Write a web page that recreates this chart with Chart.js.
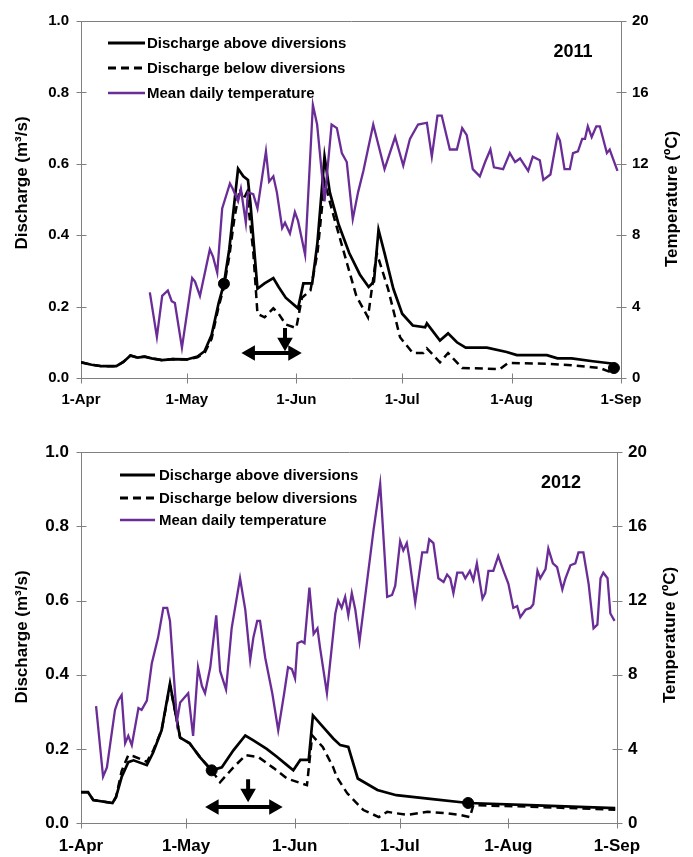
<!DOCTYPE html>
<html>
<head>
<meta charset="utf-8">
<script src="https://cdn.jsdelivr.net/npm/chart.js@4.4.1/dist/chart.umd.min.js"></script>
<style>
  html, body { margin: 0; padding: 0; background: #fff; }
  #wrap { position: relative; width: 693px; height: 857px; }
  .panel { position: absolute; left: 0; width: 693px; }
</style>
</head>
<body>
<div id="wrap">
  <div class="panel" style="top:0"><canvas id="c2011" width="693" height="420"></canvas></div>
  <div class="panel" style="top:430px"><canvas id="c2012" width="693" height="427"></canvas></div>
</div>
<script>
// x axis is days since 1-Apr
const TICK_DAYS = [0, 30, 61, 91, 122, 153];
const TICK_LABELS = ['1-Apr', '1-May', '1-Jun', '1-Jul', '1-Aug', '1-Sep'];
const LEGEND_LABELS = ['Discharge above diversions', 'Discharge below diversions', 'Mean daily temperature'];

// ---- 2011 ----
const above2011Day = [0, 3, 6, 10, 12, 14, 16, 18, 20, 23, 26, 30, 33, 35, 37, 39, 40.5, 42, 43, 44.5, 46, 47.3, 48, 50, 52, 54.5, 56, 58, 61.5, 63, 65.5, 67, 69, 70.5, 73, 76, 79, 81.5, 83, 84.3, 86, 88.5, 91, 94, 97.5, 98, 101.7, 104, 106.5, 109, 115, 120.6, 123.5, 132, 135, 139, 145, 151];
const above2011Q = [0.044, 0.037, 0.033, 0.033, 0.045, 0.063, 0.057, 0.060, 0.055, 0.050, 0.053, 0.052, 0.060, 0.075, 0.12, 0.21, 0.264, 0.36, 0.45, 0.586, 0.565, 0.555, 0.49, 0.25, 0.265, 0.28, 0.255, 0.225, 0.195, 0.265, 0.265, 0.38, 0.62, 0.52, 0.43, 0.35, 0.29, 0.255, 0.27, 0.415, 0.35, 0.25, 0.18, 0.147, 0.142, 0.153, 0.105, 0.125, 0.1, 0.085, 0.085, 0.073, 0.064, 0.064, 0.055, 0.055, 0.047, 0.040];
const below2011Day = [0, 3, 6, 10, 12, 14, 16, 18, 20, 23, 26, 30, 33, 35, 37, 39, 40.5, 42, 43.5, 45, 46, 47, 48.8, 50, 52, 54.5, 56, 58, 61, 62.6, 65, 67, 69, 71.4, 75.4, 78, 81.3, 83.8, 87, 90.4, 94, 97, 98, 101.7, 104, 108, 118.7, 121, 132, 139, 147, 150.7];
const below2011Q = [0.044, 0.037, 0.033, 0.033, 0.045, 0.063, 0.057, 0.060, 0.055, 0.050, 0.053, 0.052, 0.058, 0.07, 0.11, 0.2, 0.255, 0.34, 0.45, 0.53, 0.5, 0.52, 0.355, 0.18, 0.17, 0.195, 0.18, 0.15, 0.14, 0.225, 0.245, 0.35, 0.55, 0.46, 0.32, 0.23, 0.17, 0.35, 0.25, 0.114, 0.07, 0.07, 0.083, 0.044, 0.07, 0.028, 0.025, 0.042, 0.04, 0.036, 0.028, 0.014];
const temp2011Day = [19.5, 21.5, 23, 24.6, 25.7, 26.6, 28.6, 31.5, 32.3, 33.7, 36.5, 37.4, 38.6, 40, 42.2, 43, 44.5, 45.3, 46.7, 47.3, 48.8, 50, 52.4, 53.3, 54.5, 55.5, 57, 57.8, 59.2, 60.6, 61.5, 63.5, 65.7, 66.9, 69, 71, 72.5, 73.9, 75.3, 77, 78.5, 80, 82.8, 86, 89, 91.3, 93.2, 95.5, 98, 99.4, 101, 102.2, 104.5, 106.5, 108, 109.3, 111, 113, 114.5, 116, 117, 119.6, 121.5, 123, 124.4, 126.7, 128, 130, 131, 133, 135, 135.7, 137, 138.5, 139.4, 140.8, 142, 142.8, 143.6, 144.7, 146, 147, 149, 149.8, 150.7, 152];
const temp2011 = [4.8, 2.3, 4.6, 4.9, 4.3, 4.2, 1.7, 5.6, 5.4, 4.6, 7.2, 6.8, 5.9, 9.5, 10.9, 10.6, 9.9, 10.6, 8.7, 10.4, 10.3, 9.5, 12.7, 11.0, 11.3, 10.4, 8.4, 8.7, 8.1, 9.3, 8.8, 6.9, 15.3, 14.2, 9.9, 14.2, 14.0, 12.6, 12.1, 8.9, 10.4, 11.6, 14.2, 11.7, 13.5, 11.9, 13.4, 14.2, 14.3, 12.4, 14.7, 14.7, 12.8, 12.8, 14.0, 13.6, 11.7, 11.3, 12.1, 12.8, 11.8, 11.7, 12.6, 12.1, 12.3, 11.6, 12.4, 12.2, 11.1, 11.4, 13.6, 13.3, 11.7, 11.7, 12.6, 12.7, 13.4, 13.4, 14.1, 13.5, 14.1, 14.1, 12.6, 12.8, 12.3, 11.6];
const dots2011Day = [40.5, 151];
const dots2011Q = [0.264, 0.028];
const span2011Day = [48, 60];
const span2011Q = [0.07, 0.07];
const drop2011Day = [57.8, 57.8];
const drop2011Q = [0.14, 0.1];

// ---- 2012 ----
const above2012Day = [0, 2, 3.5, 9, 10, 11.6, 13.5, 15, 18.8, 20.6, 23, 25.4, 26.9, 28.3, 31, 34, 37.3, 40.2, 43.5, 46.9, 49.2, 53, 56, 58.8, 60.6, 62.6, 65, 66.2, 69.2, 72, 74, 76.3, 79, 84.6, 90, 99.7, 110.5, 128, 152.5];
const above2012Q = [0.083, 0.083, 0.062, 0.054, 0.07, 0.124, 0.164, 0.169, 0.156, 0.19, 0.25, 0.376, 0.30, 0.23, 0.215, 0.177, 0.142, 0.15, 0.196, 0.236, 0.223, 0.20, 0.178, 0.156, 0.142, 0.17, 0.17, 0.29, 0.258, 0.228, 0.21, 0.205, 0.12, 0.089, 0.075, 0.065, 0.054, 0.048, 0.04];
const below2012Day = [0, 2, 3.5, 9, 10, 11.6, 13.5, 15, 18.8, 20.6, 23, 25.4, 26.9, 28.3, 31, 34, 37.3, 39.7, 43.5, 47, 50.6, 55, 58.8, 64.5, 66, 69, 72, 73, 76, 80.6, 85, 87.4, 93, 98.9, 103.5, 108, 111, 112, 128, 152.5];
const below2012Q = [0.083, 0.083, 0.062, 0.054, 0.07, 0.14, 0.183, 0.18, 0.165, 0.195, 0.25, 0.37, 0.30, 0.23, 0.215, 0.177, 0.142, 0.11, 0.15, 0.183, 0.178, 0.148, 0.12, 0.102, 0.236, 0.205, 0.15, 0.124, 0.08, 0.035, 0.016, 0.03, 0.022, 0.03, 0.027, 0.022, 0.016, 0.048, 0.044, 0.036];
const temp2012Day = [4.3, 6.3, 7.4, 9.7, 10.6, 11.6, 12.6, 13.5, 14.5, 16.4, 17.3, 18.8, 20.2, 22, 23.5, 24.6, 25.4, 27.4, 28.3, 30.6, 32, 33.4, 34.5, 35.4, 36.9, 38.6, 39.7, 41.4, 43, 45.4, 46.9, 48.3, 49.2, 50.3, 51.1, 52.6, 54.6, 56.3, 58, 59.1, 60.2, 61.1, 61.8, 63, 63.8, 65.2, 66.4, 67.5, 68.2, 70.2, 72.6, 73.4, 74.4, 75.4, 76.3, 77.3, 78.3, 79.5, 83.5, 85.4, 87.4, 88.8, 89.7, 91.1, 92, 93, 93.7, 95.4, 97.4, 98.8, 99.4, 100.6, 102, 103.5, 104.5, 105.4, 106.3, 107.4, 108.9, 109.7, 111, 112, 113, 114.6, 115.4, 116.3, 117.7, 119.1, 120.6, 122, 123.4, 124.5, 125.4, 126.9, 128.3, 129.1, 130.3, 131.1, 132.6, 133.4, 134.7, 135.9, 137.4, 138.3, 139.7, 141.1, 142, 143.4, 144.9, 146.3, 147.4, 148.3, 149.1, 150.3, 151.1, 152.3];
const temp2012 = [6.3, 2.5, 3.0, 6.1, 6.6, 6.9, 4.3, 4.7, 4.2, 6.2, 6.1, 6.6, 8.6, 10.0, 11.6, 11.6, 10.9, 5.5, 6.5, 7.0, 4.7, 8.4, 7.4, 7.0, 8.4, 11.2, 8.2, 7.2, 10.5, 13.2, 11.5, 8.8, 10.0, 10.9, 10.9, 8.9, 7.0, 5.0, 7.0, 8.4, 8.3, 7.8, 9.7, 9.8, 9.7, 12.7, 10.2, 10.5, 9.5, 7.0, 11.3, 12.0, 11.6, 12.2, 11.2, 12.4, 11.5, 9.8, 15.8, 18.3, 12.2, 12.3, 12.8, 15.2, 14.7, 15.1, 14.3, 11.9, 14.6, 14.6, 15.3, 15.1, 13.2, 13.0, 13.4, 13.2, 12.4, 13.5, 13.5, 13.2, 13.6, 13.1, 14.0, 12.1, 12.4, 13.6, 13.6, 14.4, 13.6, 12.9, 11.6, 11.7, 11.1, 11.5, 11.6, 11.8, 13.6, 13.2, 13.7, 14.8, 14.0, 13.8, 12.6, 13.2, 13.9, 14.0, 14.6, 14.6, 12.9, 10.5, 10.7, 13.2, 13.5, 13.2, 11.3, 10.9];
const dots2012Day = [37.3, 110.5];
const dots2012Q = [0.142, 0.054];
const span2012Day = [38, 55];
const span2012Q = [0.043, 0.043];
const drop2012Day = [47.7, 47.7];
const drop2012Q = [0.118, 0.08];

const PURPLE = '#6a2c96';
const AXIS = '#808080';
const FONT = "'Liberation Sans', Arial, sans-serif";

Chart.defaults.font.family = FONT;
Chart.defaults.font.weight = 'bold';
Chart.defaults.color = '#000';

const zip = (xs, ys) => xs.map((x, i) => ({ x: x, y: ys[i] }));

// frame, crossing ticks, titles, legend and year label
const decor = {
  id: 'decor',
  beforeDatasetsDraw(chart, args, o) {
    const { ctx, chartArea: a, scales } = chart;
    const L = Math.round(a.left) + 0.5, R = Math.round(a.right) + 0.5;
    const T = Math.round(a.top) + 0.5, B = Math.round(a.bottom) + 0.5;
    ctx.save();
    ctx.strokeStyle = AXIS;
    ctx.lineWidth = 1;
    ctx.beginPath();
    ctx.rect(L, T, R - L, B - T);
    scales.x.ticks.forEach(t => {
      const px = Math.round(scales.x.getPixelForValue(t.value)) + 0.5;
      ctx.moveTo(px, B - 5); ctx.lineTo(px, B + 5);
    });
    scales.yQ.ticks.forEach(t => {
      const py = Math.round(scales.yQ.getPixelForValue(t.value)) + 0.5;
      ctx.moveTo(L - 5, py); ctx.lineTo(L + 5, py);
    });
    scales.yT.ticks.forEach(t => {
      const py = Math.round(scales.yT.getPixelForValue(t.value)) + 0.5;
      ctx.moveTo(R - 5, py); ctx.lineTo(R + 5, py);
    });
    ctx.stroke();
    ctx.restore();
  },
  afterDraw(chart, args, o) {
    const ctx = chart.ctx;
    ctx.save();
    ctx.fillStyle = '#000';
    ctx.textAlign = 'center';
    ctx.textBaseline = 'middle';
    ctx.font = 'bold 17px ' + FONT;
    [[o.leftTitle, 'Discharge (m\u00b3/s)'], [o.rightTitle, 'Temperature (\u00baC)']].forEach(([pos, txt]) => {
      ctx.save();
      ctx.translate(pos[0], pos[1]);
      ctx.rotate(-Math.PI / 2);
      ctx.fillText(txt, 0, 0);
      ctx.restore();
    });
    ctx.font = 'bold 18px ' + FONT;
    ctx.fillText(o.year, o.yearPos[0], o.yearPos[1]);

    const styles = [
      { c: '#000', w: 2.8, dash: [] },
      { c: '#000', w: 2.8, dash: [8, 5] },
      { c: PURPLE, w: 2.4, dash: [] }
    ];
    ctx.font = 'bold 15px ' + FONT;
    ctx.textAlign = 'left';
    o.legendRows.forEach((y, i) => {
      const s = styles[i];
      ctx.strokeStyle = s.c;
      ctx.lineWidth = s.w;
      ctx.setLineDash(s.dash);
      ctx.beginPath();
      ctx.moveTo(o.legendLine[0], y);
      ctx.lineTo(o.legendLine[1], y);
      ctx.stroke();
      ctx.fillText(LEGEND_LABELS[i], o.legendText, y + 1);
    });
    ctx.restore();
  }
};

function makeChart(id, p) {
  return new Chart(document.getElementById(id), {
    type: 'line',
    data: {
      datasets: [
        { label: 'markers', data: zip(p.dotsDay, p.dotsQ), yAxisID: 'yQ', showLine: false,
          pointRadius: 5.5, pointBackgroundColor: '#000', pointBorderColor: '#000', order: 0, clip: false },
        { label: 'span', data: zip(p.spanDay, p.spanQ), yAxisID: 'yQ', borderColor: '#000', borderWidth: 4,
          pointStyle: 'triangle', pointRotation: [-90, 90], pointRadius: 5,
          pointBackgroundColor: '#000', pointBorderColor: '#000', order: 1 },
        { label: 'drop', data: zip(p.dropDay, p.dropQ), yAxisID: 'yQ', borderColor: '#000', borderWidth: 4,
          pointStyle: 'triangle', pointRotation: 180, pointRadius: [0, 5],
          pointBackgroundColor: '#000', pointBorderColor: '#000', order: 1 },
        { label: LEGEND_LABELS[2], data: zip(p.tempDay, p.temp), yAxisID: 'yT', borderColor: PURPLE,
          borderWidth: 2.3, pointRadius: 0, tension: 0, order: 2 },
        { label: LEGEND_LABELS[0], data: zip(p.aboveDay, p.aboveQ), yAxisID: 'yQ', borderColor: '#000',
          borderWidth: 2.7, pointRadius: 0, tension: 0, order: 3 },
        { label: LEGEND_LABELS[1], data: zip(p.belowDay, p.belowQ), yAxisID: 'yQ', borderColor: '#000',
          borderWidth: 2.5, borderDash: [8, 5], pointRadius: 0, tension: 0, order: 4 }
      ]
    },
    options: {
      responsive: false,
      animation: false,
      layout: { padding: { top: p.padTop, left: 0, right: 0, bottom: 0 } },
      plugins: {
        legend: { display: false },
        tooltip: { enabled: false },
        decor: p.decor
      },
      scales: {
        x: {
          type: 'linear', min: 0, max: 153,
          grid: { display: false, drawTicks: false },
          border: { display: false },
          afterBuildTicks: s => { s.ticks = TICK_DAYS.map(v => ({ value: v })); },
          afterFit: s => { s.height = p.xHeight; },
          ticks: {
            autoSkip: false, maxRotation: 0, padding: p.xPad,
            font: { size: p.tickSize, weight: 'bold' }, color: '#000',
            callback: v => TICK_LABELS[TICK_DAYS.indexOf(v)]
          }
        },
        yQ: {
          position: 'left', min: 0, max: 1,
          grid: { display: false, drawTicks: false },
          border: { display: false },
          afterFit: s => { s.width = p.leftWidth; },
          ticks: { stepSize: 0.2, padding: 12, font: { size: p.tickSize, weight: 'bold' }, color: '#000',
            callback: v => v.toFixed(1) }
        },
        yT: {
          position: 'right', min: 0, max: 20,
          grid: { display: false, drawTicks: false },
          border: { display: false },
          afterFit: s => { s.width = p.rightWidth; },
          ticks: { stepSize: 4, padding: 11, font: { size: p.tickSize, weight: 'bold' }, color: '#000' }
        }
      }
    },
    plugins: [decor]
  });
}

makeChart('c2011', {
  aboveDay: above2011Day, aboveQ: above2011Q,
  belowDay: below2011Day, belowQ: below2011Q,
  tempDay: temp2011Day, temp: temp2011,
  dotsDay: dots2011Day, dotsQ: dots2011Q,
  spanDay: span2011Day, spanQ: span2011Q,
  dropDay: drop2011Day, dropQ: drop2011Q,
  padTop: 18, xHeight: 42, leftWidth: 81, rightWidth: 72, tickSize: 15, xPad: 13,
  decor: {
    year: '2011', yearPos: [573, 52],
    leftTitle: [22, 183], rightTitle: [672, 199],
    legendRows: [43, 68, 93], legendLine: [108, 145], legendText: 147
  }
});

makeChart('c2012', {
  aboveDay: above2012Day, aboveQ: above2012Q,
  belowDay: below2012Day, belowQ: below2012Q,
  tempDay: temp2012Day, temp: temp2012,
  dotsDay: dots2012Day, dotsQ: dots2012Q,
  spanDay: span2012Day, spanQ: span2012Q,
  dropDay: drop2012Day, dropQ: drop2012Q,
  padTop: 21, xHeight: 34, leftWidth: 81, rightWidth: 76, tickSize: 17, xPad: 13,
  decor: {
    year: '2012', yearPos: [561, 53],
    leftTitle: [22, 207], rightTitle: [670, 205],
    legendRows: [45, 68, 90], legendLine: [120, 155], legendText: 159
  }
});
</script>
</body>
</html>
